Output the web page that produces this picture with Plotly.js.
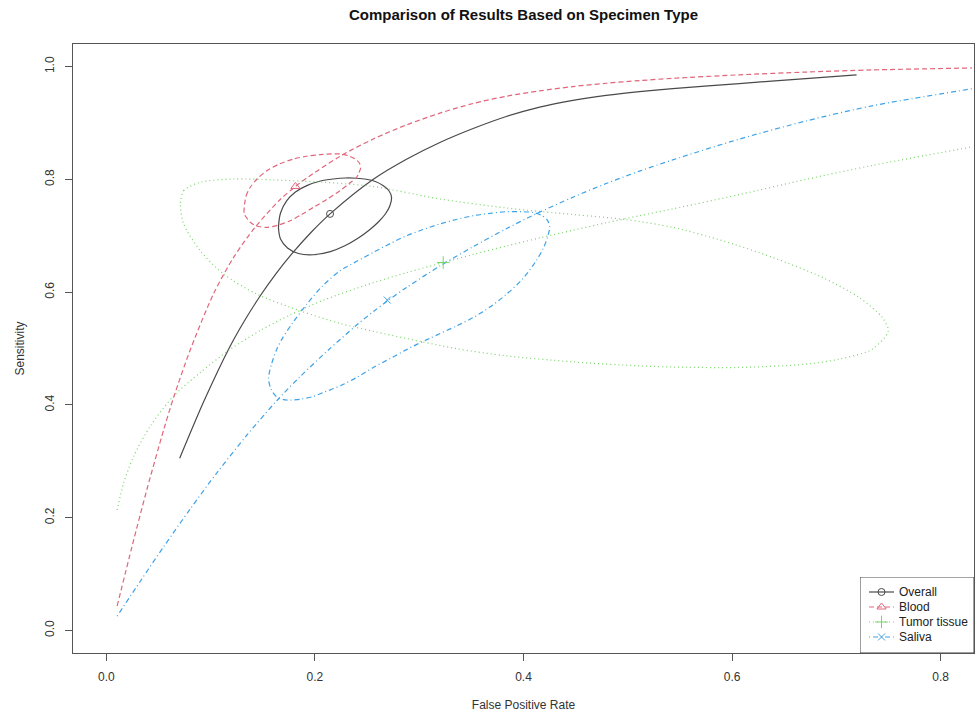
<!DOCTYPE html>
<html>
<head>
<meta charset="utf-8">
<script src="https://cdn.plot.ly/plotly-3.0.1.min.js"></script>
<style>html,body{margin:0;padding:0;background:#fff;}#chart{width:977px;height:715px;}</style>
</head>
<body>
<div id="chart"></div>
<script>
// ---- Data (False Positive Rate vs Sensitivity) ----
const seriesNames = ["Overall", "Blood", "Tumor tissue", "Saliva"];

// Summary points
const pointFPR  = [0.2145, 0.1813, 0.323, 0.2694];
const pointSens = [0.7387, 0.7873, 0.6524, 0.5858];

// SROC curves
const overallCurveFPR  = [0.0703,0.0938,0.1172,0.1323,0.1476,0.1627,0.1778,0.1962,0.2145,0.2560,0.2878,0.3198,0.3517,0.3835,0.4155,0.4474,0.4792,0.5112,0.5431,0.6069,0.6706,0.7194];
const overallCurveSens = [0.3053,0.4076,0.4988,0.5487,0.5936,0.6329,0.6678,0.7057,0.7387,0.8001,0.8356,0.8653,0.8901,0.9114,0.9281,0.9400,0.9489,0.9556,0.9609,0.9698,0.9787,0.9851];

const bloodCurveFPR  = [0.0103,0.0247,0.0390,0.0550,0.0646,0.0806,0.1029,0.1220,0.1428,0.1667,0.1813,0.1922,0.2241,0.2560,0.2878,0.3198,0.3517,0.3835,0.4155,0.4474,0.4792,0.5112,0.5431,0.6069,0.6706,0.7344,0.8301];
const bloodCurveSens = [0.0431,0.1497,0.2508,0.3561,0.4138,0.4983,0.5976,0.6615,0.7154,0.7642,0.7873,0.8024,0.8409,0.8716,0.8965,0.9173,0.9345,0.9474,0.9569,0.9645,0.9704,0.9751,0.9791,0.9853,0.9902,0.9940,0.9975];

const tumorCurveFPR  = [0.0103,0.0167,0.0263,0.0423,0.0646,0.0901,0.1189,0.1476,0.1763,0.2081,0.2560,0.2878,0.3230,0.3517,0.3835,0.4155,0.4474,0.4792,0.5112,0.5431,0.6069,0.6706,0.7344,0.8301];
const tumorCurveSens = [0.2136,0.2622,0.3094,0.3627,0.4159,0.4575,0.4988,0.5319,0.5596,0.5857,0.6167,0.6345,0.6524,0.6668,0.6817,0.6961,0.7097,0.7229,0.7355,0.7476,0.7729,0.7998,0.8246,0.8575];

const salivaCurveFPR  = [0.0103,0.0327,0.0550,0.0806,0.1060,0.1347,0.1634,0.1858,0.2129,0.2400,0.2560,0.2694,0.2878,0.3198,0.3517,0.3835,0.4120,0.4474,0.4792,0.5112,0.5431,0.6069,0.6706,0.7344,0.8301];
const salivaCurveSens = [0.0254,0.0877,0.1486,0.2159,0.2796,0.3462,0.4074,0.4502,0.4974,0.5416,0.5654,0.5842,0.6082,0.6462,0.6805,0.7124,0.7387,0.7683,0.7925,0.8145,0.8345,0.8713,0.9033,0.9304,0.9606];

// Confidence regions
const overallRegionFPR  = [0.1651,0.1670,0.1730,0.1813,0.1922,0.2053,0.2177,0.2292,0.2400,0.2493,0.2579,0.2656,0.2708,0.2735,0.2718,0.2675,0.2608,0.2522,0.2416,0.2292,0.2148,0.1986,0.1842,0.1737,0.1670,0.1651,0.1651];
const overallRegionSens = [0.7172,0.7403,0.7621,0.7776,0.7888,0.7971,0.8006,0.8024,0.8019,0.8001,0.7962,0.7888,0.7802,0.7682,0.7527,0.7385,0.7243,0.7101,0.6959,0.6826,0.6719,0.6663,0.6684,0.6782,0.6941,0.7119,0.7172];

const bloodRegionFPR  = [0.1322,0.1340,0.1380,0.1450,0.1539,0.1660,0.1794,0.1919,0.2050,0.2241,0.2321,0.2385,0.2426,0.2438,0.2421,0.2400,0.2330,0.2241,0.2120,0.1986,0.1871,0.1763,0.1651,0.1539,0.1440,0.1380,0.1340,0.1322,0.1322];
const bloodRegionSens = [0.7504,0.7705,0.7859,0.8015,0.8154,0.8273,0.8361,0.8409,0.8438,0.8450,0.8418,0.8361,0.8290,0.8202,0.8113,0.8037,0.7927,0.7799,0.7651,0.7504,0.7376,0.7266,0.7190,0.7149,0.7172,0.7238,0.7332,0.7385,0.7504];

const tumorRegionFPR  = [0.0710,0.0742,0.0901,0.1220,0.1603,0.2081,0.2560,0.3198,0.3835,0.4474,0.4981,0.5430,0.5909,0.6388,0.6866,0.7217,0.7440,0.7498,0.7344,0.7026,0.6706,0.6069,0.5430,0.5112,0.4474,0.3835,0.3357,0.2878,0.2560,0.2241,0.1858,0.1443,0.1124,0.0901,0.0742,0.0710];
const tumorRegionSens = [0.7562,0.7800,0.7948,0.8006,0.7989,0.7948,0.7873,0.7652,0.7492,0.7376,0.7287,0.7149,0.6911,0.6616,0.6261,0.5906,0.5551,0.5313,0.4988,0.4811,0.4722,0.4664,0.4672,0.4692,0.4763,0.4870,0.4997,0.5178,0.5305,0.5445,0.5668,0.5965,0.6320,0.6733,0.7208,0.7562];

const salivaRegionFPR  = [0.1555,0.1579,0.1632,0.1699,0.1766,0.1861,0.1976,0.2081,0.2244,0.2400,0.2560,0.2722,0.2878,0.2943,0.3105,0.3354,0.3517,0.3677,0.3833,0.3995,0.4120,0.4191,0.4234,0.4251,0.4225,0.4167,0.4091,0.3995,0.3835,0.3679,0.3517,0.3354,0.3198,0.3038,0.2878,0.2722,0.2560,0.2397,0.2241,0.2072,0.1922,0.1785,0.1689,0.1634,0.1584,0.1555];
const salivaRegionSens = [0.4474,0.4278,0.4145,0.4092,0.4083,0.4101,0.4145,0.4220,0.4340,0.4486,0.4664,0.4823,0.4980,0.5042,0.5184,0.5397,0.5548,0.5734,0.5956,0.6240,0.6551,0.6782,0.6994,0.7172,0.7287,0.7367,0.7412,0.7426,0.7426,0.7397,0.7355,0.7287,0.7208,0.7110,0.7000,0.6861,0.6705,0.6542,0.6378,0.6107,0.5787,0.5450,0.5184,0.4988,0.4722,0.4474];

const xTicks = [0.0, 0.2, 0.4, 0.6, 0.8];
const yTicks = [0.0, 0.2, 0.4, 0.6, 0.8, 1.0];

// ---- Styling ----
const colors  = ["#4a4a4a", "#E0667B", "#78D468", "#3DA2E8"];
const dashes  = ["solid", "5px,3px", "1px,3px", "1px,3px,5px,3px"];
const symbols = ["circle-open", "triangle-up-open", "cross-thin-open", "x-thin-open"];
const msizes  = [7, 8, 9, 7];

const curves  = [[overallCurveFPR, overallCurveSens],[bloodCurveFPR, bloodCurveSens],[tumorCurveFPR, tumorCurveSens],[salivaCurveFPR, salivaCurveSens]];
const regions = [[overallRegionFPR, overallRegionSens],[bloodRegionFPR, bloodRegionSens],[tumorRegionFPR, tumorRegionSens],[salivaRegionFPR, salivaRegionSens]];

const traces = [];
for (let i = 0; i < 4; i++) {
  traces.push({x: curves[i][0], y: curves[i][1], type: "scatter", mode: "lines",
    line: {color: colors[i], width: 1.2, dash: dashes[i], shape: "spline", smoothing: 0.8},
    showlegend: false, hoverinfo: "skip"});
  traces.push({x: regions[i][0], y: regions[i][1], type: "scatter", mode: "lines",
    line: {color: colors[i], width: 1.2, dash: dashes[i], shape: "spline", smoothing: 0.8},
    showlegend: false, hoverinfo: "skip"});
}
for (let i = 0; i < 4; i++) {
  traces.push({x: [pointFPR[i]], y: [pointSens[i]], type: "scatter", mode: "markers", showlegend: false,
    marker: {symbol: symbols[i], size: msizes[i], color: colors[i], line: {color: colors[i], width: 1}}});
}

// ---- Legend drawn in a small inset subplot (box coordinates in px of the inset) ----
const legendRowY = [61, 46, 31, 16];
for (let i = 0; i < 4; i++) {
  traces.push({x: [9, 34], y: [legendRowY[i], legendRowY[i]], xaxis: "x2", yaxis: "y2", type: "scatter", mode: "lines",
    line: {color: colors[i], width: 1.2, dash: dashes[i]}, showlegend: false, hoverinfo: "skip"});
  traces.push({x: [21.5], y: [legendRowY[i]], xaxis: "x2", yaxis: "y2", type: "scatter", mode: "markers",
    marker: {symbol: symbols[i], size: msizes[i], color: colors[i], line: {color: colors[i], width: 1}}, showlegend: false, hoverinfo: "skip"});
}
const legendAnn = seriesNames.map((n, i) => ({xref: "x2", yref: "y2", x: 37, y: legendRowY[i], text: n, showarrow: false,
  xanchor: "left", yanchor: "middle", font: {size: 12, color: "#222"}}));

const fontFam = "Liberation Sans, Arial, sans-serif";
const layout = {
  width: 977, height: 715,
  margin: {l: 73, r: 3, t: 44, b: 62},
  paper_bgcolor: "#fff", plot_bgcolor: "#fff",
  font: {family: fontFam, color: "#333", size: 12},
  title: {text: "Comparison of Results Based on Specimen Type", font: {family: fontFam, size: 15, color: "#111", weight: "bold"},
          xref: "paper", x: 0.5, xanchor: "center", yref: "container", y: 1 - 15/715, yanchor: "middle"},
  xaxis: {range: [-0.032, 0.832], tickvals: xTicks, tickformat: ".1f", ticks: "outside", ticklen: 7, tickcolor: "#555",
          showline: true, mirror: true, linecolor: "#555", linewidth: 1, showgrid: false, zeroline: false,
          tickfont: {size: 12, color: "#333"}, ticklabelstandoff: 6,
          title: {text: "False Positive Rate", font: {size: 12, color: "#333"}, standoff: 17}},
  yaxis: {range: [-0.04, 1.04], tickvals: yTicks, tickformat: ".1f", ticks: "outside", ticklen: 7, tickcolor: "#555",
          tickangle: -90, showline: true, mirror: true, linecolor: "#555", linewidth: 1, showgrid: false, zeroline: false,
          tickfont: {size: 12, color: "#333"}, ticklabelstandoff: 6,
          title: {text: "Sensitivity", font: {size: 12, color: "#333"}, standoff: 16}},
  xaxis2: {domain: [0.8735, 1], range: [0, 114], anchor: "y2", visible: false, fixedrange: true},
  yaxis2: {domain: [0, 0.1248], range: [0, 76], anchor: "x2", visible: false, fixedrange: true},
  shapes: [{type: "rect", xref: "x2", yref: "y2", x0: 0, x1: 114, y0: 0, y1: 76, layer: "below",
            fillcolor: "#fff", line: {color: "#444", width: 1}}],
  annotations: legendAnn,
  showlegend: false
};

Plotly.newPlot("chart", traces, layout, {displayModeBar: false, staticPlot: true});
</script>
</body>
</html>
